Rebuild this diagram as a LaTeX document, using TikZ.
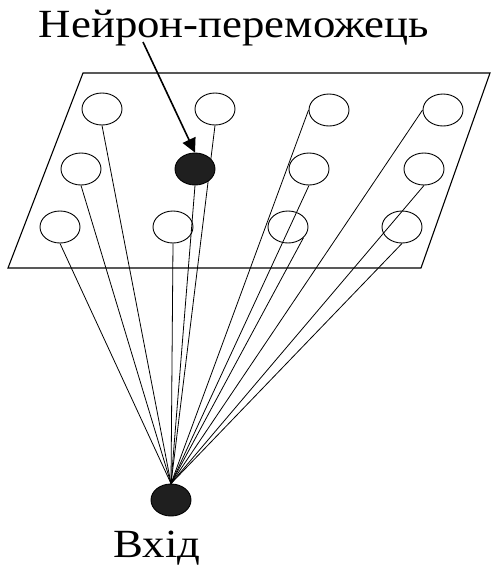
\documentclass[tikz,border=0pt]{standalone}
\usepackage{fontspec}
\setmainfont{Liberation Serif}
\usetikzlibrary{shapes.geometric,arrows.meta}
\begin{document}
\begin{tikzpicture}[x=1pt,y=-1pt,
  neuron/.style={ellipse,draw,line width=0.9pt,minimum width=40pt,minimum height=32pt,inner sep=0pt},
  winner/.style={neuron,fill=black!88},
  link/.style={line width=0.8pt},
  label/.style={font=\fontsize{40}{44}\selectfont,inner sep=0pt,anchor=base,xscale=1.12}]
\useasboundingbox (0,0) rectangle (491,566);
% layer plane
\draw[line width=1.1pt] (83,73) -- (490,73) -- (421,268) -- (8,268) -- cycle;
% neurons of the layer
\node[neuron] (a1) at (102,109) {};
\node[neuron] (a2) at (215,109) {};
\node[neuron] (a3) at (329,110) {};
\node[neuron] (a4) at (443,110) {};
\node[neuron] (b1) at (81,169) {};
\node[neuron] (b3) at (309,169) {};
\node[neuron] (b4) at (424,169) {};
\node[neuron] (c1) at (60,227) {};
\node[neuron] (c2) at (173,227) {};
\node[neuron] (c3) at (288,227) {};
\node[neuron] (c4) at (402,227) {};
% input
\node[winner] (in) at (171,500) {};
\node[label] (inlabel) at (157,557) {Вхід};
% connections from the input to every neuron
\foreach \n in {a1,a2,b1,b3,b4,c1,c2,c4}
  \draw[link] (\n.south) -- (in.north);
\draw[link] (a3.west) -- (in.north);
\draw[link] (a4.west) -- (in.north);
\draw[link] (c3.-35) -- (in.north);
% winning neuron
\node[winner] (b2) at (195,169) {};
\draw[link] (b2.south) -- (in.north);
% caption with pointer
\node[label] (title) at (234,37) {Нейрон-переможець};
\draw[line width=1.6pt,-{Triangle[length=14pt,width=14pt]}] (143,42) -- (b2.north);
\end{tikzpicture}
\end{document}
